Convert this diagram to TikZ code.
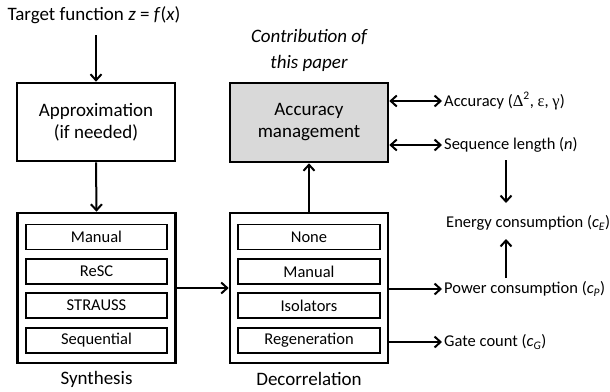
\documentclass[tikz,border=0pt]{standalone}
\usepackage{fontspec}
\setmainfont{Carlito}
\newfontfamily\grk{Liberation Serif}
\usetikzlibrary{arrows.meta}
\tikzset{
  mainfont/.style={font=\fontsize{19}{22}\selectfont},
  subfont/.style={font=\fontsize{16.5}{19}\selectfont},
  bigbox/.style={draw, line width=2.6pt, minimum width=158pt, inner sep=0pt, align=center, mainfont},
  subbox/.style={draw, line width=1.4pt, minimum width=141pt, minimum height=25pt, inner sep=0pt, subfont},
  lbl/.style={inner sep=0pt, mainfont},
  sidelbl/.style={inner sep=0pt, anchor=west, subfont},
  arr/.style={line width=2pt, -{Straight Barb[length=6pt,width=11pt,line width=2pt]}},
  dbl/.style={line width=2pt, {Straight Barb[length=6pt,width=11pt,line width=2pt]}-{Straight Barb[length=6pt,width=11pt,line width=2pt]}}
}
\begin{document}
\begin{tikzpicture}[x=1pt,y=-1pt]
\useasboundingbox (0,0) rectangle (610,391);

% input and approximation stage
\node[lbl] (target) at (94,15) {Target function \textit{z} = \textit{f}(\textit{x})};
\node[bigbox, minimum height=78pt] (approx) at (96,122) {Approximation\\(if needed)};

% synthesis stage
\node[bigbox, minimum height=150pt] (synth) at (96.5,288) {};
\node[subbox] (s1) at (96.5,237) {Manual};
\node[subbox] (s2) at (96.5,271.5) {ReSC};
\node[subbox] (s3) at (96.5,305.5) {STRAUSS};
\node[subbox] (s4) at (96.5,340.5) {Sequential};
\node[lbl] (synthlbl) at (96.5,379) {Synthesis};

% decorrelation stage
\node[bigbox, minimum height=150pt] (decor) at (309,288) {};
\node[subbox, minimum width=142pt] (d1) at (309,237) {None};
\node[subbox, minimum width=142pt] (d2) at (309,271.5) {Manual};
\node[subbox, minimum width=142pt] (d3) at (309,305.5) {Isolators};
\node[subbox, minimum width=142pt] (d4) at (309,340.5) {Regeneration};
\node[lbl] (decorlbl) at (309,379) {Decorrelation};

% accuracy management
\node[bigbox, minimum height=79pt, fill=black!15] (acc) at (309,122.5) {Accuracy\\management};
\node[lbl, align=center, font=\fontsize{19}{26}\selectfont\itshape] (contrib) at (309,50) {Contribution of\\this paper};

% metrics
\node[sidelbl] (accur) at (444,101) {Accuracy ({\grk Δ}\textsuperscript{2}, {\grk ε}, {\grk γ})};
\node[sidelbl] (seqlen) at (444,145) {Sequence length (\textit{n})};
\node[sidelbl] (energy) at (446,223) {Energy consumption (\textit{c}\textsubscript{\textit{E}})};
\node[sidelbl] (power) at (444,289) {Power consumption (\textit{c}\textsubscript{\textit{P}})};
\node[sidelbl] (gate) at (444,342) {Gate count (\textit{c}\textsubscript{\textit{G}})};

\coordinate (seqbot) at (506,160);
\coordinate (entop) at (506,203);
\coordinate (enbot) at (506,239);
\coordinate (powtop) at (506,278);
\coordinate (tgtbot) at (96,35);

% connectors
\draw[arr] (tgtbot) -- (approx.north);
\draw[arr] (approx.south) -- (synth.north);
\draw[arr] (synth.east) -- (decor.west);
\draw[arr] (decor.north) -- (acc.south);
\draw[dbl] (acc.east |- accur.west) -- ([xshift=-2pt]accur.west);
\draw[dbl] (acc.east |- seqlen.west) -- ([xshift=-2pt]seqlen.west);
\draw[arr] (seqbot) -- (entop);
\draw[arr] (powtop) -- (enbot);
\draw[arr] (decor.east |- power.west) -- ([xshift=-2pt]power.west);
\draw[arr] (decor.east |- gate.west) -- ([xshift=-2pt]gate.west);
\end{tikzpicture}
\end{document}
